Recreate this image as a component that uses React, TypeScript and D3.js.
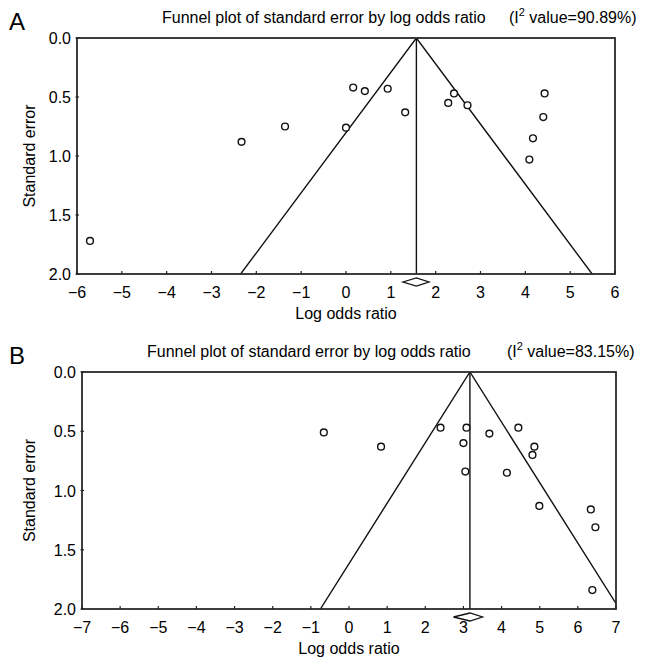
import React from 'react';
import * as d3 from 'd3';

// panel A points (log odds ratio, standard error)
const aLogOR = [-5.71, -2.33, -1.36, 0.0, 0.16, 0.42, 0.93, 1.32, 2.41, 2.28, 2.71, 4.43, 4.4, 4.17, 4.09];
const aSE = [1.72, 0.88, 0.75, 0.76, 0.42, 0.45, 0.43, 0.63, 0.47, 0.55, 0.57, 0.47, 0.67, 0.85, 1.03];
// panel B points
const bLogOR = [-0.66, 0.84, 2.4, 3.08, 3.0, 3.05, 3.68, 4.44, 4.14, 4.86, 4.81, 4.99, 6.34, 6.46, 6.38];
const bSE = [0.51, 0.63, 0.47, 0.47, 0.6, 0.84, 0.52, 0.47, 0.85, 0.63, 0.7, 1.13, 1.16, 1.31, 1.84];

const aPooled = 1.57;
const aCI = [1.27, 1.85];
const bPooled = 3.17;
const bCI = [2.74, 3.5];

const aTicks = d3.range(-6, 7);
const bTicks = d3.range(-7, 8);
const seTicks = [0, 0.5, 1.0, 1.5, 2.0];

const FONT = '"Liberation Sans", Arial, Helvetica, sans-serif';

type PanelProps = {
  id: string;
  letter: string;
  i2: string;
  xs: number[];
  ses: number[];
  pooled: number;
  ci: number[];
  ticks: number[];
  left: number;
  right: number;
  top: number;
  bottom: number;
  titleX: number;
  i2X: number;
};

const minus = (v: number) => (v < 0 ? '\u2212' + Math.abs(v) : String(v));

const Panel = (p: PanelProps) => {
  const x = d3.scaleLinear().domain([p.ticks[0], p.ticks[p.ticks.length - 1]]).range([p.left, p.right]);
  const y = d3.scaleLinear().domain([0, 2]).range([p.top, p.bottom]);
  const line = d3.line<[number, number]>().x((d) => x(d[0])).y((d) => y(d[1]));
  // 95% pseudo confidence limits around the pooled estimate
  const funnel: [number, number][] = [
    [p.pooled - 1.96 * 2, 2],
    [p.pooled, 0],
    [p.pooled + 1.96 * 2, 2],
  ];
  const dy = p.bottom + 8;
  const diamond = `M${x(p.ci[0])},${dy} L${x(p.pooled)},${dy - 4} L${x(p.ci[1])},${dy} L${x(p.pooled)},${dy + 4} Z`;
  const midY = (p.top + p.bottom) / 2;

  return (
    <g>
      <defs>
        <clipPath id={'clip' + p.id}>
          <rect x={p.left} y={p.top} width={p.right - p.left} height={p.bottom - p.top} />
        </clipPath>
      </defs>
      <text x={9} y={p.top - 8} fontSize={24} fontFamily={FONT}>{p.letter}</text>
      <text x={p.titleX} y={p.top - 15} fontSize={16} fontFamily={FONT}>
        Funnel plot of standard error by log odds ratio
      </text>
      <text x={p.i2X} y={p.top - 15} fontSize={16} fontFamily={FONT}>
        (I<tspan fontSize={11} dy={-7}>2</tspan><tspan dy={7}> value={p.i2})</tspan>
      </text>

      <g clipPath={`url(#clip${p.id})`}>
        <path d={line(funnel) || ''} fill="none" stroke="#111" strokeWidth={1.4} />
        <line x1={x(p.pooled)} x2={x(p.pooled)} y1={y(0)} y2={y(2)} stroke="#111" strokeWidth={1.4} />
      </g>

      {p.xs.map((v, i) => (
        <circle key={i} cx={x(v)} cy={y(p.ses[i])} r={3.4} fill="white" stroke="#111" strokeWidth={1.4} />
      ))}

      <rect x={p.left} y={p.top} width={p.right - p.left} height={p.bottom - p.top} fill="none" stroke="#2a2a2a" strokeWidth={1.8} />

      {p.ticks.map((t) => (
        <g key={t}>
          <line x1={x(t)} x2={x(t)} y1={p.bottom} y2={p.bottom - 3} stroke="#222" strokeWidth={1.2} />
          <text x={x(t)} y={p.bottom + 24} fontSize={16} fontFamily={FONT} textAnchor="middle">{minus(t)}</text>
        </g>
      ))}
      {seTicks.map((t) => (
        <g key={t}>
          <line x1={p.left - 1.5} x2={p.left + 2} y1={y(t)} y2={y(t)} stroke="#222" strokeWidth={1.2} />
          <text x={p.left - 6} y={y(t) + 6} fontSize={16} fontFamily={FONT} textAnchor="end">{t.toFixed(1)}</text>
        </g>
      ))}

      <path d={diamond} fill="white" stroke="#111" strokeWidth={1.3} />

      <text x={(p.left + p.right) / 2} y={p.bottom + 45} fontSize={16} fontFamily={FONT} textAnchor="middle">Log odds ratio</text>
      <text transform={`translate(35,${midY}) rotate(-90)`} fontSize={16} fontFamily={FONT} textAnchor="middle">Standard error</text>
    </g>
  );
};

export default function App() {
  return (
    <svg width={646} height={670} style={{ position: 'absolute', left: 0, top: 0, background: 'white' }}>
      <rect width={646} height={670} fill="white" />
      <Panel id="A" letter="A" i2="90.89%" xs={aLogOR} ses={aSE} pooled={aPooled} ci={aCI} ticks={aTicks}
        left={77} right={615} top={38} bottom={274} titleX={162} i2X={509} />
      <Panel id="B" letter="B" i2="83.15%" xs={bLogOR} ses={bSE} pooled={bPooled} ci={bCI} ticks={bTicks}
        left={82} right={616} top={372} bottom={609} titleX={147} i2X={507} />
    </svg>
  );
}
